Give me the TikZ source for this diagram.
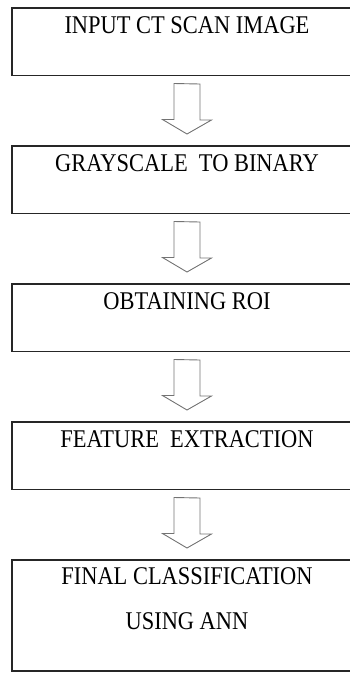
\documentclass[tikz,border=0pt]{standalone}
\usepackage{fontspec}
\newfontfamily\boxfont[FakeStretch=0.88]{Liberation Serif}
\usetikzlibrary{positioning}
\tikzstyle{block} = [draw=black!85, line width=1.3pt, rectangle, minimum width=350pt, inner sep=0pt, outer sep=0pt, align=center, font=\fontsize{25.5}{45}\boxfont, text height=25pt, text depth=42.5pt]
\tikzstyle{path} = [draw=black!55, line width=0.9pt, line join=miter]

\begin{document}
\begin{tikzpicture}[node distance=70.5pt]
    \useasboundingbox (0,0) rectangle (349pt,-673pt);

    % Steps.
    \node (node 1) [block, anchor=north west] at (12pt,-8pt) {INPUT CT SCAN IMAGE};
    \node (node 2) [block, below=of node 1] {GRAYSCALE\ \ TO BINARY};
    \node (node 3) [block, below=of node 2] {OBTAINING ROI};
    \node (node 4) [block, below=of node 3] {FEATURE\ \ EXTRACTION};
    \node (node 5) [block, below=of node 4, text height=69pt, text depth=42pt] {FINAL CLASSIFICATION\\USING ANN};

    % Block arrows.
    \foreach \i in {1, ..., 4} {%
        \pgfmathtruncatemacro{\j}{\i + 1}
        \draw [path] ([xshift=-13pt, yshift=-8pt]node \i.south) -- ++(0,-36pt) -- ++(-11.5pt,0)
            -- ([yshift=12pt]node \j.north) -- ++(24.5pt,14pt) -- ++(-11.5pt,0) -- ++(0,36pt) -- cycle;
    }
\end{tikzpicture}
\end{document}
